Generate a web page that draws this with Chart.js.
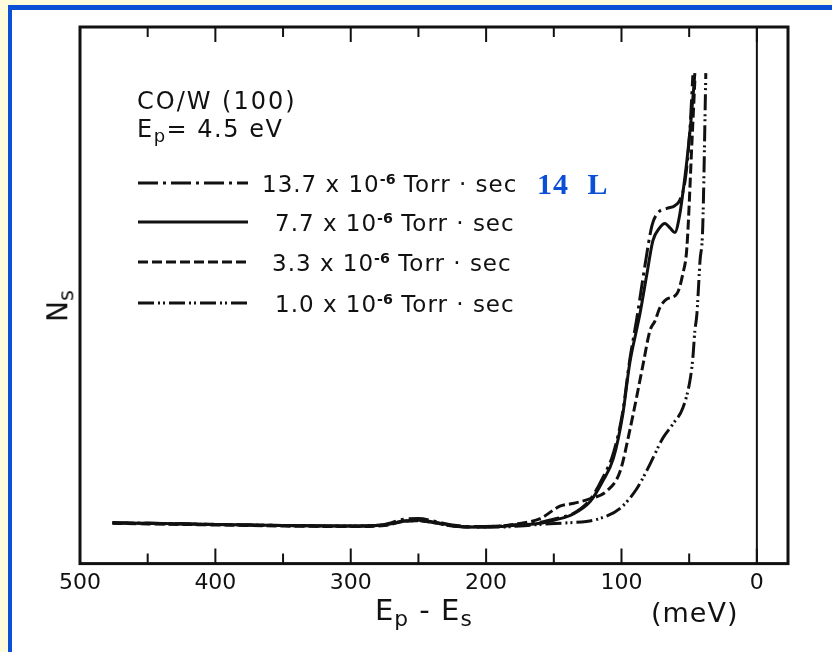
<!DOCTYPE html>
<html><head><meta charset="utf-8">
<script src="https://cdn.jsdelivr.net/npm/chart.js@4"></script>
<style>
html,body{margin:0;padding:0;width:832px;height:652px;overflow:hidden;background:#fdfbdc;}
#panel{position:absolute;left:8px;top:5px;width:840px;height:660px;background:#fff;border-left:4px solid #0b4fd6;border-top:5px solid #0b4fd6;}
#wrap{position:absolute;left:0;top:0;width:832px;height:652px;}
.t{position:absolute;font-family:"DejaVu Sans",sans-serif;color:#111;white-space:nowrap;line-height:1;transform:translateY(-50%);}
.t sup{font-size:0.62em;font-weight:bold;vertical-align:0.55em;letter-spacing:0;}
.t sub{font-size:0.75em;vertical-align:-0.3em;}
.lg{font-size:23px;letter-spacing:1px;}
</style></head>
<body>
<div id="panel"></div>
<div id="wrap"><canvas id="c" width="832" height="652"></canvas></div>
<div class="t" style="left:137px;top:101px;font-size:24px;letter-spacing:2px;">CO/W (100)</div>
<div class="t" style="left:137px;top:131px;font-size:24px;letter-spacing:1.5px;">E<sub>p</sub>= 4.5 eV</div>
<div class="t lg" style="left:262px;top:184px;">13.7 x 10<sup>-6</sup> Torr · sec</div>
<div class="t" style="left:537px;top:184px;font-size:30px;font-family:'Liberation Serif',serif;font-weight:bold;color:#0b4fd6;word-spacing:10px;letter-spacing:1px;">14 L</div>
<div class="t lg" style="left:275px;top:223px;">7.7 x 10<sup>-6</sup> Torr · sec</div>
<div class="t lg" style="left:272px;top:263px;">3.3 x 10<sup>-6</sup> Torr · sec</div>
<div class="t lg" style="left:275px;top:304px;">1.0 x 10<sup>-6</sup> Torr · sec</div>
<div class="t" style="left:375px;top:613px;font-size:29px;letter-spacing:1px;">E<sub>p</sub> - E<sub>s</sub></div>
<div class="t" style="left:651px;top:612px;font-size:27px;letter-spacing:1px;">(meV)</div>
<div class="t" style="left:45px;top:306px;font-size:28px;transform:translateY(-50%) rotate(-90deg);">N<sub>s</sub></div>
<script>
// x tick labels (meV)
const xTicks = [500, 400, 300, 200, 100, 0];
const xMinorTicks = [450, 350, 250, 150, 50];

// 13.7e-6 Torr·sec (dash-dot)
const e137 = [476,450,400,350,300,275,262,250,238,225,210,190,175,160,148,136,123,114,106,99,94,89,82.7,77.5,73,66.5,60.6,57,53,49.5,47.3];
const n137 = [7.6,7.5,7.3,7.1,7.0,7.3,8.2,8.4,7.9,7.2,6.9,7.0,7.3,7.7,8.4,9.3,12,15.9,20.6,28.4,37.8,45.2,55.5,63,65.4,66.2,66.7,67.7,71.4,80.7,91];

// 7.7e-6 Torr·sec (solid)
const e77 = [476,450,400,350,300,275,262,250,238,225,210,190,175,160,148,136,123,114,106,99,94,89,86.4,81.2,76.8,72,68,64,60.6,57,54.7,51.7,48.5,45.8];
const n77 = [7.6,7.5,7.3,7.1,7.0,7.2,7.9,8.1,7.7,7.1,6.8,6.9,7.2,7.5,8.2,9.2,11.6,15.3,19.6,27.9,37.2,43.4,46.5,54.0,60.2,62.5,63.4,62.5,61.7,65,69,75.1,83,91.4];

// 3.3e-6 Torr·sec (dashed)
const e33 = [476,450,400,350,300,275,262,250,238,225,210,190,175,160,145.5,136,123,111,101,94,89,84,79,75.3,71.6,66.5,59,54.7,51.7,48,45.8];
const n33 = [7.5,7.4,7.2,7.0,6.9,7.1,7.8,8.0,7.6,7.0,6.8,7.0,7.5,8.4,10.7,11.2,12.1,13.5,17.2,24.7,30.8,37.2,43.4,45.2,47.7,49.3,50.3,54,58.9,78.3,90];

// 1.0e-6 Torr·sec (dash-dot-dot)
const e10 = [476,450,400,350,300,275,262,250,238,225,210,190,175,160,140,126,116,101,88.6,79,69.4,62,54.7,49.5,47.3,45.8,44.3,42,40,37.7];
const n10 = [7.6,7.5,7.3,7.1,7.0,7.2,7.9,8.0,7.6,7.0,6.8,6.8,7.0,7.3,7.6,7.85,8.4,10.3,14,18.5,23.4,26,29,34,38.3,43.4,46.5,56.4,62.6,91.4];

const seriesNames = ['13.7', '7.7', '3.3', '1.0'];

const pts = (xs, ys) => xs.map((x, i) => ({x, y: ys[i]}));
const ink = '#111';
const dashes = [[20,5,3,5], [], [10,4], [16,4,2,3,2,4]];
const mk = (label, data, dash) => ({label, data, borderColor: ink, borderWidth: 3, borderDash: dash,
  pointRadius: 0, fill: false, tension: 0.35, cubicInterpolationMode: 'monotone'});

const frame = {
  id: 'frame',
  afterDatasetsDraw(chart) {
    const {ctx, chartArea: a, scales: {x}} = chart;
    ctx.save();
    ctx.strokeStyle = ink; ctx.setLineDash([]);
    ctx.lineWidth = 3;
    ctx.strokeRect(a.left, a.top, a.right - a.left, a.bottom - a.top);
    ctx.lineWidth = 2;
    const x0 = x.getPixelForValue(0);
    ctx.beginPath(); ctx.moveTo(x0, a.top); ctx.lineTo(x0, a.bottom); ctx.stroke();
    const tick = (v, len) => {
      const px = x.getPixelForValue(v);
      ctx.beginPath();
      ctx.moveTo(px, a.bottom); ctx.lineTo(px, a.bottom - len);
      ctx.moveTo(px, a.top); ctx.lineTo(px, a.top + len);
      ctx.stroke();
    };
    xTicks.forEach(v => tick(v, 15));
    xMinorTicks.forEach(v => tick(v, 10));
    // legend samples
    const ly = [183, 222, 262, 303];
    ly.forEach((y, i) => {
      ctx.lineWidth = 3;
      ctx.setLineDash(chart.data.datasets[i].borderDash);
      ctx.beginPath(); ctx.moveTo(138, y); ctx.lineTo(248, y); ctx.stroke();
    });
    ctx.restore();
  }
};

new Chart(document.getElementById('c'), {
  type: 'line',
  data: { datasets: [
    mk(seriesNames[0], pts(e137, n137), dashes[0]),
    mk(seriesNames[1], pts(e77, n77), dashes[1]),
    mk(seriesNames[2], pts(e33, n33), dashes[2]),
    mk(seriesNames[3], pts(e10, n10), dashes[3])
  ]},
  options: {
    responsive: false, animation: false,
    layout: { padding: { left: 80, right: 44, top: 27, bottom: 50 } },
    plugins: { legend: { display: false }, tooltip: { enabled: false } },
    scales: {
      x: { type: 'linear', reverse: true, min: -23, max: 500,
        afterBuildTicks: s => { s.ticks = xTicks.map(v => ({value: v})); },
        ticks: { color: ink, padding: 6, maxRotation: 0, autoSkip: false,
          font: { family: 'DejaVu Sans', size: 22 } },
        grid: { display: false, drawTicks: false }, border: { display: false } },
      y: { display: false, min: 0, max: 100 }
    }
  },
  plugins: [frame]
});
</script>
</body></html>
